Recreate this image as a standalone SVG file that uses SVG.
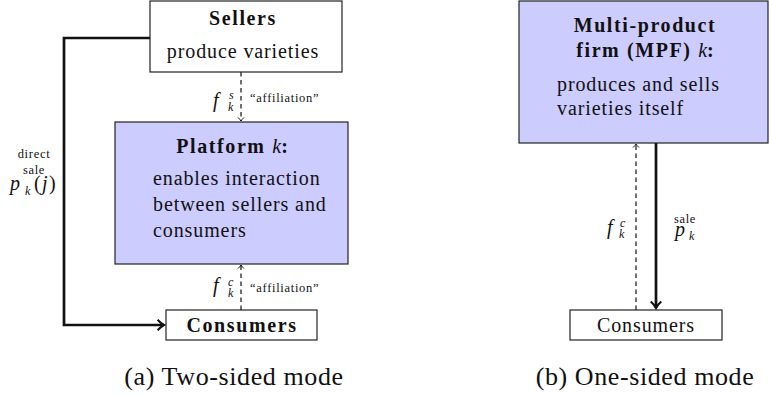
<svg xmlns="http://www.w3.org/2000/svg" width="769" height="396" viewBox="0 0 769 396" font-family="Liberation Serif">
<style>
text, tspan { font-family: 'Liberation Serif', serif !important; fill: #111; }
.box { fill: #fff; stroke: #222; stroke-width: 1.2; }
.blue { fill: #ccccff; stroke: #222; stroke-width: 1.2; }
.dash { fill: none; stroke: #111; stroke-width: 1.2; stroke-dasharray: 4.5,3.5; }
.thick { fill: none; stroke: #111; stroke-width: 2.7; }
</style>
<defs>
<marker id="ah" markerWidth="8" markerHeight="8" viewBox="-5 -4 6 8" refX="0" refY="0" orient="auto" markerUnits="userSpaceOnUse">
<path d="M-3.5,-3 Q-1.5,-0.8 0,0 Q-1.5,0.8 -3.5,3" fill="none" stroke="#111" stroke-width="1"/>
</marker>
<marker id="ahb" markerWidth="14" markerHeight="14" viewBox="-7 -6 8 12" refX="0" refY="0" orient="auto" markerUnits="userSpaceOnUse">
<path d="M-5.5,-4.5 Q-2.5,-1.2 0,0 Q-2.5,1.2 -5.5,4.5" fill="none" stroke="#111" stroke-width="1.8"/>
</marker>
</defs>

<g id="connectors">
<line class="dash" x1="241" y1="72" x2="241" y2="121" marker-end="url(#ah)"/>
<line class="dash" x1="241" y1="310" x2="241" y2="265" marker-end="url(#ah)"/>
<polyline class="thick" points="150,38 64,38 64,325 164,325" marker-end="url(#ahb)"/>
<line class="dash" x1="636" y1="310" x2="636" y2="144" marker-end="url(#ah)"/>
<line class="thick" x1="656" y1="143" x2="656" y2="308" marker-end="url(#ahb)"/>
</g>

<g id="labels">
<text x="213" y="107" font-family="Liberation Serif" font-size="20" font-style="italic">f</text>
<text x="229" y="99" font-family="Liberation Serif" font-size="12" font-style="italic">s</text>
<text x="228" y="111" font-family="Liberation Serif" font-size="12" font-style="italic">k</text>
<text x="250" y="102" font-family="Liberation Serif" font-size="12.5" letter-spacing="0.7">“affiliation”</text>
<text x="213" y="292" font-family="Liberation Serif" font-size="20" font-style="italic">f</text>
<text x="228" y="286" font-family="Liberation Serif" font-size="12" font-style="italic">c</text>
<text x="228" y="297" font-family="Liberation Serif" font-size="12" font-style="italic">k</text>
<text x="250" y="292" font-family="Liberation Serif" font-size="12.5" letter-spacing="0.7">“affiliation”</text>
<text x="34" y="158" font-family="Liberation Serif" font-size="12.5" letter-spacing="0.7" text-anchor="middle">direct</text>
<text x="34" y="174" font-family="Liberation Serif" font-size="12.5" letter-spacing="0.7" text-anchor="middle">sale</text>
<text x="10" y="190" font-family="Liberation Serif" font-size="20" font-style="italic">p</text>
<text x="25" y="195" font-family="Liberation Serif" font-size="12" font-style="italic">k</text>
<text x="34" y="190" font-family="Liberation Serif" font-size="20">(</text>
<text x="42" y="190" font-family="Liberation Serif" font-size="20" font-style="italic">j</text>
<text x="49" y="190" font-family="Liberation Serif" font-size="20">)</text>
<text x="607" y="234" font-family="Liberation Serif" font-size="20" font-style="italic">f</text>
<text x="620" y="227" font-family="Liberation Serif" font-size="12" font-style="italic">c</text>
<text x="619" y="238" font-family="Liberation Serif" font-size="12" font-style="italic">k</text>
<text x="685" y="223" font-family="Liberation Serif" font-size="12.5" letter-spacing="0.7" text-anchor="middle">sale</text>
<text x="675" y="236" font-family="Liberation Serif" font-size="20" font-style="italic">p</text>
<text x="689" y="240" font-family="Liberation Serif" font-size="12" font-style="italic">k</text>
</g>

<g id="sellers">
<rect class="box" x="150" y="1" width="192" height="71"/>
<text x="243" y="25" font-family="Liberation Serif" font-size="20" font-weight="bold" letter-spacing="1.6" text-anchor="middle">Sellers</text>
<text x="243" y="58" font-family="Liberation Serif" font-size="20" letter-spacing="0.9" text-anchor="middle">produce varieties</text>
</g>

<g id="platform">
<rect class="blue" x="115" y="122" width="233" height="142"/>
<text x="232" y="153" font-family="Liberation Serif" font-size="20" text-anchor="middle"><tspan font-weight="bold" letter-spacing="1.6">Platform </tspan><tspan font-style="italic">k</tspan><tspan font-weight="bold">:</tspan></text>
<text x="153" y="185" font-family="Liberation Serif" font-size="20" letter-spacing="0.9">enables interaction</text>
<text x="153" y="211" font-family="Liberation Serif" font-size="20" letter-spacing="0.9">between sellers and</text>
<text x="153" y="237" font-family="Liberation Serif" font-size="20" letter-spacing="0.9">consumers</text>
</g>

<g id="consumers-a">
<rect class="box" x="166" y="310" width="151" height="30"/>
<text x="242" y="332" font-family="Liberation Serif" font-size="20" font-weight="bold" letter-spacing="1.6" text-anchor="middle">Consumers</text>
</g>

<g id="mpf">
<rect class="blue" x="519" y="1" width="249" height="142"/>
<text x="645" y="32" font-family="Liberation Serif" font-size="20" font-weight="bold" letter-spacing="1.6" text-anchor="middle">Multi-product</text>
<text x="645" y="57" font-family="Liberation Serif" font-size="20" text-anchor="middle"><tspan font-weight="bold" letter-spacing="1.6">firm (MPF) </tspan><tspan font-style="italic">k</tspan><tspan font-weight="bold">:</tspan></text>
<text x="557" y="91" font-family="Liberation Serif" font-size="20" letter-spacing="0.9">produces and sells</text>
<text x="557" y="115" font-family="Liberation Serif" font-size="20" letter-spacing="0.9">varieties itself</text>
</g>

<g id="consumers-b">
<rect class="box" x="570" y="310" width="152" height="30"/>
<text x="646" y="332" font-family="Liberation Serif" font-size="20" letter-spacing="0.9" text-anchor="middle">Consumers</text>
</g>

<g id="captions">
<text x="234" y="385" font-family="Liberation Serif" font-size="26" letter-spacing="0.6" text-anchor="middle">(a) Two-sided mode</text>
<text x="645" y="385" font-family="Liberation Serif" font-size="26" letter-spacing="0.6" text-anchor="middle">(b) One-sided mode</text>
</g>
</svg>
